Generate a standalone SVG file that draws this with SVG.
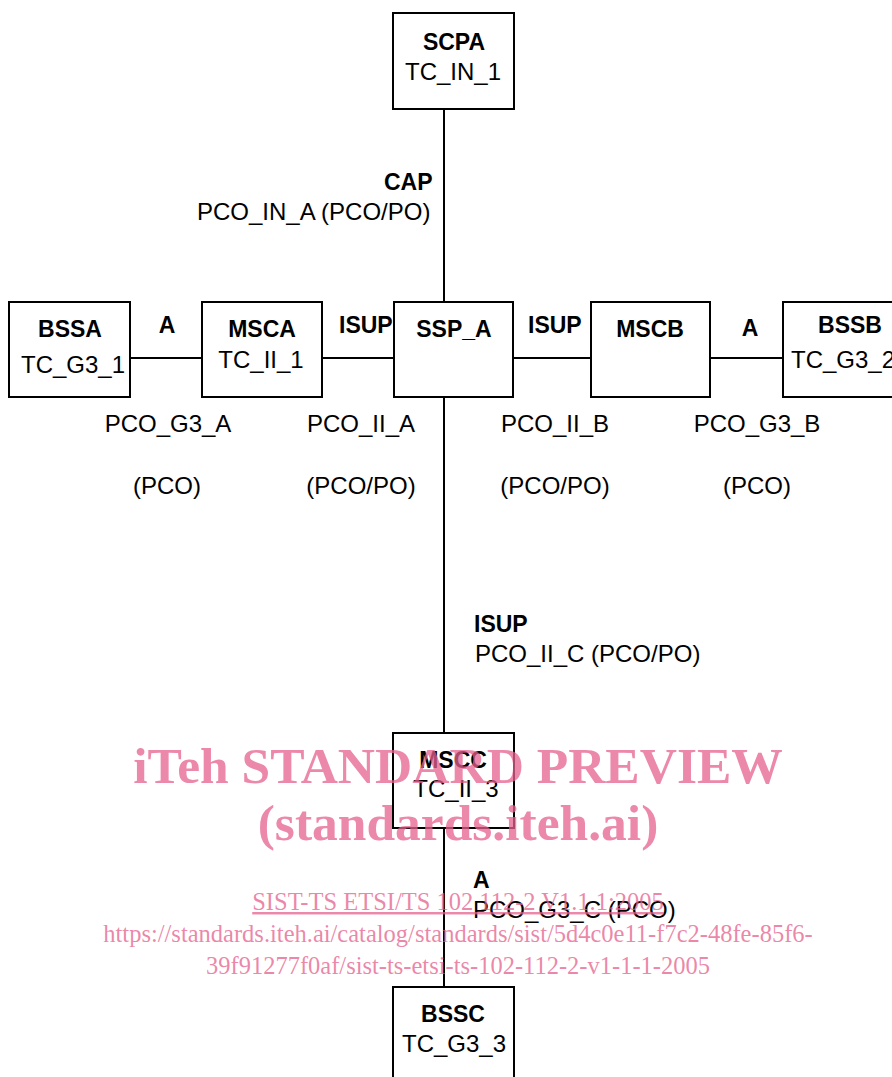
<svg xmlns="http://www.w3.org/2000/svg" width="892" height="1077" viewBox="0 0 892 1077">
<style>
.box{fill:#fff;stroke:#000;stroke-width:2}
.ln{stroke:#000;stroke-width:2;fill:none}
text{font-family:"Liberation Sans",Arial,sans-serif;font-size:24px;fill:#000}
.b{font-weight:bold;font-size:23px}
.c{text-anchor:middle}
.wm{font-family:"Liberation Serif","Times New Roman",serif;fill:#e5608c;fill-opacity:0.75;text-anchor:middle}
</style>
<rect width="892" height="1077" fill="#fff"/>
<g id="connectors">
<line class="ln" x1="444" y1="109" x2="444" y2="302"/>
<line class="ln" x1="444" y1="397" x2="444" y2="733"/>
<line class="ln" x1="444" y1="828" x2="444" y2="987"/>
<line class="ln" x1="130" y1="358" x2="202" y2="358"/>
<line class="ln" x1="322" y1="358" x2="394" y2="358"/>
<line class="ln" x1="513" y1="358" x2="591" y2="358"/>
<line class="ln" x1="710" y1="358" x2="783" y2="358"/>
<text class="b" x="384" y="190">CAP</text>
<text x="197" y="220">PCO_IN_A (PCO/PO)</text>
<text class="b c" x="167" y="333">A</text>
<text class="b" x="339" y="333">ISUP</text>
<text class="b" x="528" y="333">ISUP</text>
<text class="b c" x="750" y="336">A</text>
<text class="c" x="168" y="432">PCO_G3_A</text>
<text class="c" x="167" y="494">(PCO)</text>
<text class="c" x="361" y="432">PCO_II_A</text>
<text class="c" x="361" y="494">(PCO/PO)</text>
<text class="c" x="555" y="432">PCO_II_B</text>
<text class="c" x="555" y="494">(PCO/PO)</text>
<text class="c" x="757" y="432">PCO_G3_B</text>
<text class="c" x="757" y="494">(PCO)</text>
<text class="b" x="474" y="632">ISUP</text>
<text x="475" y="662">PCO_II_C (PCO/PO)</text>
<text class="b" x="473" y="888">A</text>
<text x="473" y="918">PCO_G3_C (PCO)</text>
</g>
<g id="SCPA"><rect class="box" x="393" y="13" width="121" height="96"/><text class="b c" x="454" y="50">SCPA</text><text class="c" x="453" y="80">TC_IN_1</text></g>
<g id="BSSA"><rect class="box" x="9" y="302" width="121" height="95"/><text class="b c" x="70" y="337">BSSA</text><text class="c" x="73" y="373">TC_G3_1</text></g>
<g id="MSCA"><rect class="box" x="202" y="302" width="120" height="95"/><text class="b c" x="262" y="337">MSCA</text><text class="c" x="261" y="368">TC_II_1</text></g>
<g id="SSP_A"><rect class="box" x="394" y="302" width="119" height="95"/><text class="b c" x="454" y="337">SSP_A</text></g>
<g id="MSCB"><rect class="box" x="591" y="302" width="119" height="95"/><text class="b c" x="650" y="337">MSCB</text></g>
<g id="BSSB"><rect class="box" x="783" y="302" width="120" height="95"/><text class="b c" x="850" y="333">BSSB</text><text x="791" y="368">TC_G3_2</text></g>
<g id="MSCC"><rect class="box" x="393" y="733" width="121" height="95"/><text class="b c" x="453" y="768">MSCC</text><text class="c" x="456" y="797">TC_II_3</text></g>
<g id="BSSC"><rect class="box" x="393" y="987" width="121" height="100"/><text class="b c" x="453" y="1022">BSSC</text><text class="c" x="454" y="1052">TC_G3_3</text></g>
<g id="watermark">
<text class="wm" x="458" y="783" style="font-size:51.5px;font-weight:bold">iTeh STANDARD PREVIEW</text>
<text class="wm" x="458" y="840" style="font-size:51.5px;font-weight:bold">(standards.iteh.ai)</text>
<text class="wm" x="458" y="910" style="font-size:24.5px;text-decoration:underline">SIST-TS ETSI/TS 102 112-2 V1.1.1:2005</text>
<text class="wm" x="458" y="942" style="font-size:24.5px">https://standards.iteh.ai/catalog/standards/sist/5d4c0e11-f7c2-48fe-85f6-</text>
<text class="wm" x="458" y="974" style="font-size:24.5px">39f91277f0af/sist-ts-etsi-ts-102-112-2-v1-1-1-2005</text>
</g>
</svg>
